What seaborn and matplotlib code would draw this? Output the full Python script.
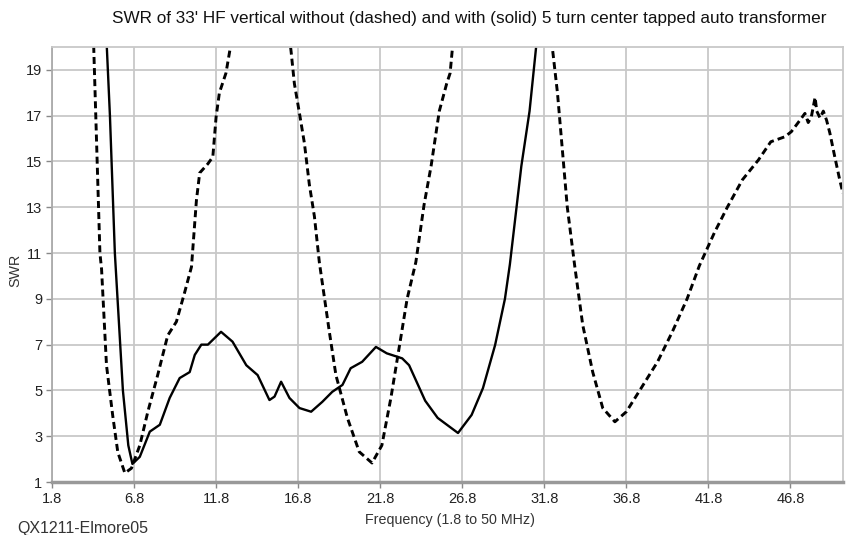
import numpy as np
import matplotlib.pyplot as plt
import seaborn as sns

sns.set_theme(context='notebook', style='white')
plt.rcParams['font.family'] = ['Liberation Sans', 'DejaVu Sans']

# solid curve: with 5 turn center tapped auto transformer
freq_solid = [5.05, 5.14, 5.33, 5.63, 6.12, 6.45, 6.7, 7.15, 7.76, 8.37, 8.97, 9.58, 10.19,
              10.5, 10.9, 11.3, 12.1, 12.8, 13.64, 14.33, 15.05, 15.36, 15.76, 16.27,
              16.88, 17.59, 18.27, 18.88, 19.5, 20.0, 20.7, 21.54, 22.2, 23.14, 23.56,
              24.54, 25.3, 26.54, 27.37, 28.06, 28.8, 29.4, 29.7, 30.4, 30.9, 31.3, 31.5]
swr_solid = [22.0, 20.0, 17.0, 11.0, 5.0, 2.6, 1.79, 2.1, 3.2, 3.5, 4.67, 5.54, 5.8,
             6.55, 7.0, 7.0, 7.56, 7.13, 6.1, 5.67, 4.58, 4.73, 5.38, 4.67,
             4.23, 4.07, 4.5, 4.94, 5.24, 5.97, 6.25, 6.9, 6.62, 6.4, 6.1,
             4.55, 3.8, 3.14, 3.93, 5.1, 6.98, 9.0, 10.5, 14.8, 17.2, 20.0, 21.5]

# dashed curve: without transformer
freq_dashed = [4.3, 4.35, 4.72, 4.82, 5.12, 5.5, 5.81, 6.24, 6.64, 7.15, 7.64, 8.24, 8.85,
               9.38, 9.89, 10.3, 10.6, 10.8, 11.3, 11.6, 11.8, 12.0, 12.4, 12.66, 12.9,
               16.1, 16.37, 16.57, 16.88, 17.18, 17.48, 17.79, 18.09, 18.7, 19.1, 19.8,
               20.52, 21.3, 21.9, 22.45, 22.95, 23.44, 23.97, 24.47, 24.9, 25.4, 25.85,
               26.06, 26.2, 26.4, 32.1, 32.3, 32.6, 32.9, 33.2, 33.65, 34.14, 34.75,
               35.36, 36.1, 36.8, 37.7, 38.7, 39.6, 40.5, 41.25, 42.17, 42.95, 43.87,
               44.84, 45.6, 46.46, 46.85, 47.27, 47.68, 47.88, 48.07, 48.3, 48.4, 48.6,
               48.8, 49.0, 49.2, 49.5, 49.8, 50.0]
swr_dashed = [21.5, 19.8, 11.0, 10.3, 6.1, 3.9, 2.3, 1.39, 1.6, 2.6, 4.07, 5.67, 7.4,
              8.0, 9.3, 10.4, 13.3, 14.5, 14.9, 15.2, 16.95, 18.0, 18.86, 19.95, 21.5,
              21.5, 19.8, 18.4, 17.1, 15.8, 14.0, 12.6, 10.6, 7.56, 5.67, 3.8,
              2.32, 1.83, 2.6, 4.67, 6.85, 9.0, 10.6, 13.1, 14.8, 17.2, 18.4,
              18.86, 19.95, 21.5, 21.5, 19.9, 18.0, 15.5, 13.0, 10.45, 7.86, 5.8,
              4.23, 3.63, 4.07, 5.1, 6.25, 7.56, 9.0, 10.45, 11.9, 13.0, 14.2,
              15.06, 15.86, 16.08, 16.3, 16.7, 17.1, 16.7, 16.95, 17.8, 17.2, 16.9,
              17.2, 16.8, 16.24, 15.2, 14.2, 13.6]

x_ticks = [1.8, 6.8, 11.8, 16.8, 21.8, 26.8, 31.8, 36.8, 41.8, 46.8]
y_ticks = [1, 3, 5, 7, 9, 11, 13, 15, 17, 19]

fig = plt.figure(figsize=(8.52, 5.35), dpi=100)
ax = fig.add_axes([52/852, 53/535, 791/852, 435/535])

grid_c = '#c8c8c8'
sns.lineplot(x=freq_dashed, y=swr_dashed, ax=ax, color='black', lw=2.1,
             estimator=None, sort=False)
ax.lines[-1].set_dashes((2.4, 1.4))
sns.lineplot(x=freq_solid, y=swr_solid, ax=ax, color='black', lw=1.7,
             estimator=None, sort=False)

ax.set_xlim(1.8, 50)
ax.set_ylim(1, 20)
ax.set_xticks(x_ticks)
ax.set_xticklabels([f'{t:.1f}' for t in x_ticks])
ax.set_yticks(y_ticks)
ax.grid(True, color=grid_c, lw=1.3)
ax.set_axisbelow(True)
ax.tick_params(axis='both', which='both', direction='out', length=4, width=1,
               color='#888888', labelsize=10.5, labelcolor='#222222', pad=3,
               bottom=True, left=True)
for side in ['top', 'right']:
    ax.spines[side].set_color(grid_c)
    ax.spines[side].set_linewidth(1.3)
ax.spines['left'].set_color('#aaaaaa')
ax.spines['left'].set_linewidth(1.3)
ax.spines['bottom'].set_color('#999999')
ax.spines['bottom'].set_linewidth(2.5)
ax.set_xlabel('')
ax.set_ylabel('')

fig.text(469/852, 1 - 18/535,
         "SWR of 33' HF vertical without (dashed) and with (solid) 5 turn center tapped auto transformer",
         ha='center', va='center', fontsize=12.3, color='#111111')
fig.text(15/852, 1 - 270/535, 'SWR', rotation=90, ha='center', va='center',
         fontsize=10.3, color='#333333')
fig.text(450/852, 1 - 520/535, 'Frequency (1.8 to 50 MHz)', ha='center', va='center',
         fontsize=10.3, color='#333333')
fig.text(17/852, 1 - 528/535, 'QX1211-Elmore05', ha='left', va='center',
         fontsize=11.5, color='#333333')

fig.savefig('out.png', dpi=100)
plt.close()
